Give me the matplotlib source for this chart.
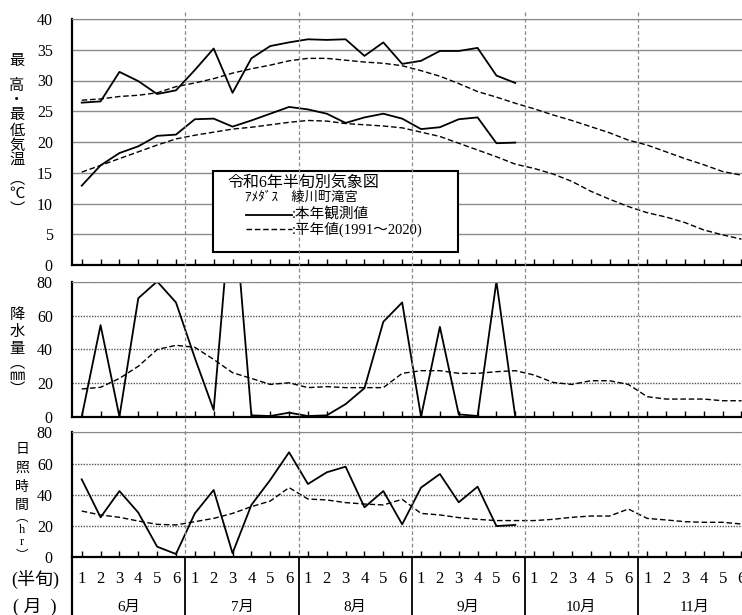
import matplotlib
matplotlib.use("Agg")
import matplotlib.pyplot as plt
import matplotlib.transforms as mtransforms
from matplotlib.lines import Line2D
from matplotlib.patches import Rectangle

plt.rcParams['font.family'] = ['Liberation Serif', 'Noto Sans CJK JP', 'DejaVu Sans']

# 半旬 (6 per month), June .. November
months = ['6月', '7月', '8月', '9月', '10月', '11月']
pentad_labels = ['1', '2', '3', '4', '5', '6'] * 6

# 最高気温
max_obs = [26.4, 26.6, 31.4, 29.9, 27.8, 28.4, 31.7, 35.2, 28.0, 33.6, 35.6, 36.2,
           36.7, 36.6, 36.7, 34.0, 36.2, 32.7, 33.2, 34.8, 34.8, 35.3, 30.8, 29.6]
max_norm = [26.8, 27.0, 27.4, 27.6, 28.0, 29.0, 29.6, 30.3, 31.2, 31.9, 32.5, 33.2,
            33.6, 33.6, 33.3, 33.0, 32.8, 32.4, 31.6, 30.7, 29.5, 28.2, 27.3, 26.3,
            25.4, 24.4, 23.5, 22.5, 21.5, 20.3, 19.5, 18.4, 17.3, 16.3, 15.2, 14.6]
# 最低気温
min_obs = [12.9, 16.2, 18.2, 19.3, 21.0, 21.2, 23.7, 23.8, 22.5, 23.5, 24.6, 25.7,
           25.3, 24.6, 23.1, 24.0, 24.6, 23.8, 22.1, 22.4, 23.7, 24.0, 19.8, 19.9]
min_norm = [15.1, 16.2, 17.3, 18.4, 19.5, 20.5, 21.1, 21.6, 22.1, 22.4, 22.8, 23.2,
            23.5, 23.4, 23.0, 22.8, 22.6, 22.3, 21.6, 20.9, 19.8, 18.7, 17.6, 16.4,
            15.7, 14.8, 13.6, 12.0, 10.7, 9.5, 8.5, 7.8, 6.9, 5.7, 4.9, 4.2]
# 降水量
prec_obs = [0, 54.5, 0, 70.5, 80.5, 68.0, 35.0, 4.0, 137.0, 0.8, 0.4, 2.4,
            0.4, 0.8, 7.5, 17.0, 56.5, 68.0, 0, 53.5, 1.4, 0.4, 80.5, 0]
prec_norm = [16.5, 17.5, 22.8, 30.0, 40.0, 42.5, 41.3, 34.1, 26.2, 22.8, 19.2, 20.2,
             17.3, 17.9, 17.3, 17.3, 17.3, 25.8, 27.4, 27.4, 25.8, 25.8, 26.8, 27.4,
             24.8, 20.4, 19.2, 21.4, 21.4, 19.2, 11.9, 10.5, 10.5, 10.5, 9.5, 9.5]
# 日照時間
sun_obs = [49.9, 25.6, 42.4, 28.6, 6.8, 2.1, 28.1, 43.1, 2.6, 33.5, 49.5, 67.2,
           46.9, 54.4, 58.0, 32.0, 42.4, 21.1, 44.6, 53.3, 35.2, 45.2, 20.0, 20.7]
sun_norm = [29.6, 27.1, 25.6, 23.2, 21.1, 20.7, 22.8, 24.9, 28.1, 32.4, 36.0, 44.6,
            37.3, 36.7, 35.0, 34.1, 33.5, 37.1, 28.1, 27.1, 25.4, 24.3, 23.5, 23.5,
            23.5, 24.3, 25.6, 26.4, 26.4, 30.9, 24.9, 23.9, 22.8, 22.4, 22.4, 21.3]

n = len(pentad_labels)
x_all = list(range(n))
x_obs = list(range(len(max_obs)))
bounds = [6 * k - 0.5 for k in range(1, 6)]

W, H = 742, 615
fig = plt.figure(figsize=(W / 100, H / 100), dpi=100)

left = 72.3 / W
width = 36 * 18.85 / W


def add_panel(top_px, bot_px):
    return fig.add_axes([left, 1 - bot_px / H, width, (bot_px - top_px) / H])


ax1 = add_panel(19, 265)
ax2 = add_panel(282.3, 416.7)
ax3 = add_panel(432.3, 557.3)

dash_norm = (0, (4, 2))
for ax in (ax1, ax2, ax3):
    ax.set_xlim(-0.5, n - 0.5)
    ax.set_xticks(x_all)
    ax.set_xticklabels([])
    ax.tick_params(axis='x', direction='in', length=4, width=1, color='black')
    ax.tick_params(axis='y', length=0, labelsize=11.5, pad=14)
    ax.spines['right'].set_visible(False)
    ax.spines['top'].set_color('#888888')
    ax.spines['left'].set_linewidth(1.6)
    ax.spines['bottom'].set_linewidth(1.6)
    ax.set_axisbelow(True)

# temperature
ax1.set_ylim(0, 40)
ax1.set_yticks(range(0, 41, 5))
ax1.grid(axis='y', color='#8c8c8c', lw=1.0, ls='-')
ax1.plot(x_obs, max_obs, color='black', lw=1.3)
ax1.plot(x_obs, min_obs, color='black', lw=1.3)
ax1.plot(x_all, max_norm, color='black', lw=1.0, ls=dash_norm)
ax1.plot(x_all, min_norm, color='black', lw=1.0, ls=dash_norm)

# precipitation
ax2.set_ylim(0, 80)
ax2.set_yticks(range(0, 81, 20))
ax2.grid(axis='y', color='#555555', lw=1.0, ls=(0, (1, 1)))
ax2.plot(x_obs, prec_obs, color='black', lw=1.3)
ax2.plot(x_all, prec_norm, color='black', lw=1.0, ls=dash_norm)

# sunshine
ax3.set_ylim(0, 80)
ax3.set_yticks(range(0, 81, 20))
ax3.grid(axis='y', color='#555555', lw=1.0, ls=(0, (1, 1)))
ax3.plot(x_obs, sun_obs, color='black', lw=1.3)
ax3.plot(x_all, sun_norm, color='black', lw=1.0, ls=dash_norm)

# month boundaries: dashed through the panels, solid in the table
tr = mtransforms.blended_transform_factory(ax1.transData, fig.transFigure)
for b in bounds:
    fig.add_artist(Line2D([b, b], [1 - 12 / H, 1 - 557.3 / H], transform=tr,
                          color='#8a8a8a', lw=0.9, ls=(0, (3, 2)), zorder=0.5))
    fig.add_artist(Line2D([b, b], [1 - 557.3 / H, -0.05], transform=tr,
                          color='black', lw=1.3))
fig.add_artist(Line2D([-0.5, -0.5], [1 - 557.3 / H, -0.05], transform=tr,
                      color='black', lw=1.6))

# table text
for i, lab in enumerate(pentad_labels):
    fig.text(i, 1 - 579 / H, lab, transform=tr, ha='center', va='center', fontsize=12)
for k, m in enumerate(months):
    fig.text(6 * k + 2.5, 1 - 607 / H, m, transform=tr, ha='center', va='center', fontsize=11)
fig.text(35 / W, 1 - 579 / H, '(半旬)', ha='center', va='center', fontsize=13)
fig.text(35 / W, 1 - 607 / H, '( 月  )', ha='center', va='center', fontsize=13)


# vertical axis titles, one character per row
def vlabel(chars, ys, xpx, fs):
    for ch, y in zip(chars, ys):
        fig.text(xpx / W, 1 - y / H, ch, ha='center', va='center', fontsize=fs)


vlabel(['最', '高', '・', '最', '低', '気', '温', '︵', '℃', '︶'],
       [62, 86, 101, 116, 131, 146, 160, 180, 194, 210], 17, 11)
vlabel(['降', '水', '量', '︵', '㎜', '︶'], [315, 332, 349, 364, 377, 390], 17, 11)
vlabel(['日', '照', '時', '間'], [449, 468, 487, 505], 22, 10)
vlabel(['︵', 'h', 'r', '︶'], [518, 530, 542, 556], 22, 9)

# legend box
bx0, bx1, by0, by1 = 213, 458, 171, 252
ax1.add_patch(Rectangle((bx0 / W, 1 - by1 / H), (bx1 - bx0) / W, (by1 - by0) / H,
                        transform=fig.transFigure, facecolor='white', edgecolor='black',
                        lw=1.5, zorder=5))
fig.text(227 / W, 1 - 183 / H, '令和6年半旬別気象図', fontsize=11.5, va='center', zorder=6)
fig.text(245 / W, 1 - 198 / H, 'ｱﾒﾀﾞｽ　綾川町滝宮', fontsize=9.5, va='center', zorder=6)
fig.add_artist(Line2D([246 / W, 292 / W], [1 - 215 / H, 1 - 215 / H], color='black', lw=1.3, zorder=6))
fig.add_artist(Line2D([246 / W, 292 / W], [1 - 229 / H, 1 - 229 / H], color='black', lw=1.0,
                      ls=dash_norm, zorder=6))
fig.text(292 / W, 1 - 214 / H, ':本年観測値', fontsize=10.5, va='center', zorder=6)
fig.text(292 / W, 1 - 229 / H, ':平年値(1991～2020)', fontsize=10.5, va='center', zorder=6)

fig.savefig('out.png', dpi=100)
